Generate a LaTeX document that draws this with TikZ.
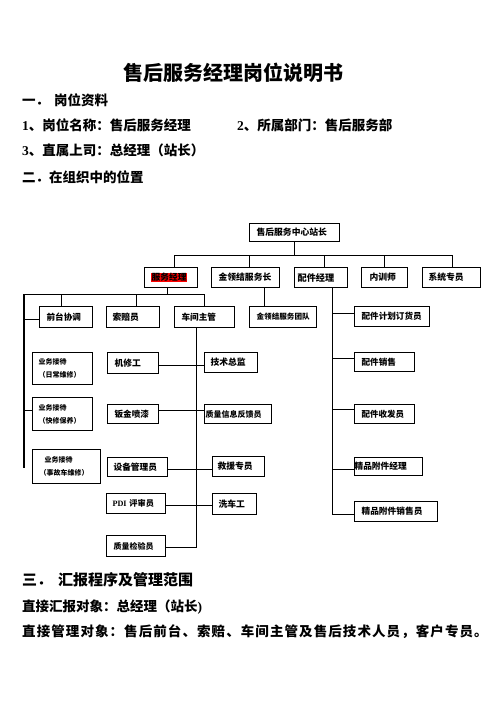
\documentclass[tikz,border=0pt]{standalone}
\usepackage{fontspec}
\setmainfont{Noto Sans CJK SC}
\newfontfamily\lat{Liberation Serif}
\usetikzlibrary{calc}
\tikzset{
  box/.style={draw, line width=1.1pt, inner ysep=0pt, align=left},
  conn/.style={line width=1.1pt},
  txt/.style={inner sep=0pt, anchor=west, font=\fontsize{13.5}{13.5}\selectfont\bfseries}
}
\newcommand\BX[8]{%
  \pgfmathsetmacro\bw{#4-#2}\pgfmathsetmacro\bh{#5-#3}\pgfmathsetmacro\tw{#4-#2-2*#6}%
  \node[box, anchor=north west, minimum width=\bw pt, minimum height=\bh pt,
        text width=\tw pt, inner xsep=#6pt,
        font=\fontsize{#7}{13}\selectfont\bfseries] (#1) at (#2pt,-#3pt) {#8};}
\begin{document}
\begin{tikzpicture}
\fill[white] (0,0) rectangle (496pt,-702pt);
\useasboundingbox (0,0) rectangle (496pt,-702pt);

% headings
\node[inner sep=0pt, font=\fontsize{20}{20}\selectfont\bfseries] (title) at (233pt,-73pt) {售后服务经理岗位说明书};
\node[txt] (s1) at (22pt,-100pt) {一．\hspace{5pt}岗位资料};
\node[txt] (l1) at (22pt,-125pt) {{\lat\bfseries 1}、岗位名称：售后服务经理};
\node[txt] (l2) at (237pt,-125pt) {{\lat\bfseries 2}、所属部门：售后服务部};
\node[txt] (l3) at (22pt,-150pt) {{\lat\bfseries 3}、直属上司：总经理（站长）};
\node[txt] (s2) at (22pt,-177pt) {二．在组织中的位置};
\node[txt, font=\fontsize{15}{15}\selectfont\bfseries] (s3) at (22pt,-580pt) {三．\hspace{6pt}汇报程序及管理范围};
\node[txt] (l4) at (22pt,-607pt) {直接汇报对象：总经理（站长{\lat\bfseries )}};
\node[txt] (l5) at (22pt,-632pt) {\addfontfeature{LetterSpace=8}直接管理对象：售后前台、索赔、车间主管及售后技术人员，客户专员。};

% boxes
\BX{top}{249}{223}{339}{241}{7}{8.8}{售后服务中心站长}
\BX{fwjl}{144}{267}{197}{287}{6.4}{8.75}{{\setlength\fboxsep{0.6pt}\colorbox{red}{服务经理}}}
\BX{jlj}{211}{267}{279}{287}{7}{8.8}{金领结服务长}
\BX{pjjl}{294}{267}{347}{287}{3}{9.2}{配件经理}
\BX{nxs}{361}{267}{407}{287}{8}{8.8}{内训师}
\BX{xtzy}{422}{267}{480}{287}{6}{8.8}{系统专员}
\BX{qtxt}{39}{306}{92}{327}{7}{8.6}{前台协调}
\BX{spy}{106}{306}{159}{327}{6}{8.8}{索赔员}
\BX{cjzg}{174}{306}{234}{327}{7}{8.6}{车间主管}
\BX{jljtd}{249}{306}{316}{327}{7}{7.6}{金领结服务团队}
\BX{pjjh}{354}{306}{429}{326}{7}{8.6}{配件计划订货员}
\BX{ywjd1}{32}{352}{92}{384}{6}{7}{业务接待\\（日常维修）}
\BX{jxg}{107}{352}{158}{373}{7}{8.8}{机修工}
\BX{jszj}{204}{352}{257}{372}{6}{8.8}{技术总监}
\BX{pjxs}{354}{352}{414}{371}{7}{8.6}{配件销售}
\BX{ywjd2}{32}{397}{92}{430}{6}{7}{业务接待\\（快修保养）}
\BX{bjpq}{107}{404}{158}{423}{7}{8.6}{钣金喷漆}
\BX{zlxx}{204}{404}{271}{423}{1}{8}{质量信息反馈员}
\BX{pjsf}{354}{404}{414}{423}{7}{8.5}{配件收发员}
\BX{ywjd3}{32}{449}{100}{483}{7}{7}{\hspace*{5pt}业务接待\\（事故车维修）}
\BX{sbgl}{107}{457}{167}{476}{6}{8.7}{设备管理员}
\BX{jyzy}{212}{456}{264}{476}{5}{8.8}{救援专员}
\BX{jpfjjl}{354}{457}{422}{475}{0}{8.7}{精品附件经理}
\BX{pdi}{106}{493}{165}{513}{6}{8.2}{{\lat\bfseries PDI}~评审员}
\BX{xcg}{212}{493}{256}{514}{6}{8.8}{洗车工}
\BX{jpfjxs}{354}{501}{437}{521}{7}{8.7}{精品附件销售员}
\BX{zljy}{106}{535}{165}{556}{7}{8}{质量检验员}

% top bus
\coordinate (b1) at ([yshift=-13pt]top.south);
\draw[conn] (top.south) -- (b1);
\draw[conn] (b1) -| ([xshift=3.5pt]fwjl.north);
\draw[conn] (b1) -| ([xshift=4pt]jlj.north);
\draw[conn] (b1) -| ([xshift=3.5pt]pjjl.north);
\draw[conn] (b1) -| (nxs.north);
\draw[conn] (b1) -| ([xshift=1pt]xtzy.north);

% service manager bus
\coordinate (b2) at ([xshift=-4pt,yshift=-6pt]fwjl.south);
\coordinate (lend) at (24pt,-468pt);
\draw[conn] ([xshift=-4pt]fwjl.south) -- (b2);
\draw[conn] (b2) -| ([xshift=-4.5pt]qtxt.north);
\draw[conn] (b2) -| ([xshift=3.5pt]spy.north);
\draw[conn] (b2) -| (cjzg.north);
\draw[conn] (b2) -| (lend);
\draw[conn] ([yshift=-2.5pt]qtxt.west) -| (lend);
\draw[conn] ([yshift=3.5pt]ywjd2.west) -| (lend);

% golden service
\draw[conn] ([xshift=19pt]jlj.south) -- ([xshift=-18.5pt]jljtd.north);

% parts spine
\coordinate (pjv) at ([xshift=11pt]pjjl.south);
\draw[conn] (pjv) |- ([yshift=3pt]pjjh.west);
\draw[conn] (pjv) |- ([yshift=3.5pt]pjxs.west);
\draw[conn] (pjv) |- ([yshift=4.5pt]pjsf.west);
\draw[conn] (pjv) |- ([yshift=-3pt]jpfjjl.west);
\draw[conn] (pjv) |- ([yshift=-3pt]jpfjxs.west);

% workshop spine
\coordinate (cjv) at ([xshift=-8pt]cjzg.south);
\draw[conn] (cjv) |- ([yshift=-1pt]zljy.east);
\draw[conn] ([yshift=-2pt]jxg.east) -- ([yshift=-2.5pt]jszj.west);
\draw[conn] ([yshift=3.5pt]bjpq.east) -- ([yshift=3.5pt]zlxx.west);
\draw[conn] ([yshift=-2.8pt]sbgl.east) -- ([yshift=-3.3pt]jyzy.west);
\draw[conn] ([yshift=-2pt]pdi.east) -- ([yshift=-1.5pt]xcg.west);
\end{tikzpicture}
\end{document}
